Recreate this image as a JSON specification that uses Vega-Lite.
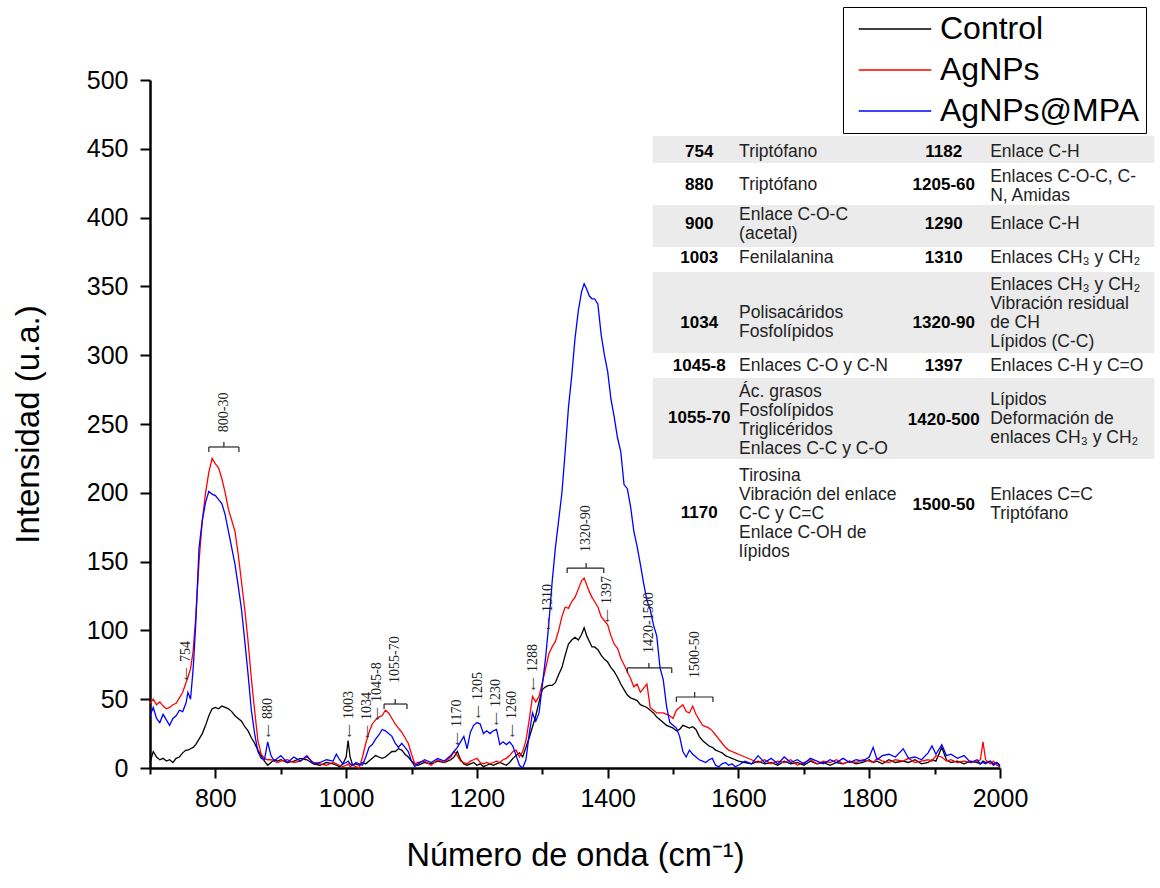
{
  "$schema": "https://vega.github.io/schema/vega-lite/v6.json",
  "width": 850,
  "height": 688,
  "autosize": {"type": "none"},
  "padding": {"left": 150, "top": 80, "right": 160, "bottom": 120},
  "background": "white",
  "config": {"view": {"stroke": null}},
  "datasets": {
    "spec": [
      {"x":700,"Control":4,"AgNPs":47,"AgNPs@MPA":38},
      {"x":705,"Control":12,"AgNPs":50,"AgNPs@MPA":44},
      {"x":710,"Control":8,"AgNPs":46,"AgNPs@MPA":36},
      {"x":715,"Control":6,"AgNPs":48,"AgNPs@MPA":33},
      {"x":720,"Control":7,"AgNPs":45,"AgNPs@MPA":39},
      {"x":725,"Control":5,"AgNPs":43,"AgNPs@MPA":35},
      {"x":730,"Control":6,"AgNPs":44,"AgNPs@MPA":31},
      {"x":735,"Control":4,"AgNPs":46,"AgNPs@MPA":36},
      {"x":740,"Control":7,"AgNPs":47,"AgNPs@MPA":38},
      {"x":745,"Control":8,"AgNPs":51,"AgNPs@MPA":42},
      {"x":750,"Control":11,"AgNPs":55,"AgNPs@MPA":41},
      {"x":755,"Control":13,"AgNPs":62,"AgNPs@MPA":47},
      {"x":758,"Control":13,"AgNPs":66,"AgNPs@MPA":55},
      {"x":762,"Control":14,"AgNPs":72,"AgNPs@MPA":50},
      {"x":766,"Control":15,"AgNPs":85,"AgNPs@MPA":72},
      {"x":770,"Control":17,"AgNPs":110,"AgNPs@MPA":105},
      {"x":775,"Control":21,"AgNPs":150,"AgNPs@MPA":160},
      {"x":780,"Control":25,"AgNPs":180,"AgNPs@MPA":180},
      {"x":785,"Control":31,"AgNPs":200,"AgNPs@MPA":193},
      {"x":790,"Control":38,"AgNPs":215,"AgNPs@MPA":201},
      {"x":795,"Control":43,"AgNPs":225,"AgNPs@MPA":199},
      {"x":800,"Control":44,"AgNPs":221,"AgNPs@MPA":198},
      {"x":805,"Control":43,"AgNPs":218,"AgNPs@MPA":195},
      {"x":810,"Control":45,"AgNPs":210,"AgNPs@MPA":192},
      {"x":815,"Control":44,"AgNPs":200,"AgNPs@MPA":184},
      {"x":820,"Control":43,"AgNPs":188,"AgNPs@MPA":172},
      {"x":825,"Control":41,"AgNPs":180,"AgNPs@MPA":160},
      {"x":830,"Control":38,"AgNPs":172,"AgNPs@MPA":148},
      {"x":835,"Control":36,"AgNPs":155,"AgNPs@MPA":132},
      {"x":840,"Control":34,"AgNPs":135,"AgNPs@MPA":115},
      {"x":845,"Control":30,"AgNPs":115,"AgNPs@MPA":92},
      {"x":850,"Control":27,"AgNPs":92,"AgNPs@MPA":68},
      {"x":855,"Control":22,"AgNPs":65,"AgNPs@MPA":42},
      {"x":860,"Control":18,"AgNPs":42,"AgNPs@MPA":25},
      {"x":865,"Control":13,"AgNPs":20,"AgNPs@MPA":12},
      {"x":870,"Control":9,"AgNPs":10,"AgNPs@MPA":7},
      {"x":875,"Control":5,"AgNPs":7,"AgNPs@MPA":6},
      {"x":880,"Control":2,"AgNPs":6,"AgNPs@MPA":19},
      {"x":885,"Control":4,"AgNPs":6,"AgNPs@MPA":9},
      {"x":890,"Control":6,"AgNPs":5,"AgNPs@MPA":5},
      {"x":895,"Control":5,"AgNPs":4,"AgNPs@MPA":7},
      {"x":900,"Control":6,"AgNPs":5,"AgNPs@MPA":9},
      {"x":910,"Control":4,"AgNPs":6,"AgNPs@MPA":4},
      {"x":920,"Control":5,"AgNPs":4,"AgNPs@MPA":8},
      {"x":930,"Control":7,"AgNPs":5,"AgNPs@MPA":5},
      {"x":940,"Control":6,"AgNPs":8,"AgNPs@MPA":9},
      {"x":950,"Control":3,"AgNPs":4,"AgNPs@MPA":3},
      {"x":960,"Control":2,"AgNPs":3,"AgNPs@MPA":4},
      {"x":970,"Control":4,"AgNPs":2,"AgNPs@MPA":6},
      {"x":980,"Control":3,"AgNPs":4,"AgNPs@MPA":5},
      {"x":985,"Control":2,"AgNPs":3,"AgNPs@MPA":10},
      {"x":990,"Control":1,"AgNPs":2,"AgNPs@MPA":6},
      {"x":995,"Control":3,"AgNPs":1,"AgNPs@MPA":3},
      {"x":1000,"Control":8,"AgNPs":2,"AgNPs@MPA":4},
      {"x":1003,"Control":20,"AgNPs":3,"AgNPs@MPA":5},
      {"x":1006,"Control":8,"AgNPs":1,"AgNPs@MPA":3},
      {"x":1010,"Control":2,"AgNPs":2,"AgNPs@MPA":2},
      {"x":1015,"Control":3,"AgNPs":1,"AgNPs@MPA":4},
      {"x":1020,"Control":2,"AgNPs":0,"AgNPs@MPA":3},
      {"x":1025,"Control":4,"AgNPs":8,"AgNPs@MPA":2},
      {"x":1030,"Control":3,"AgNPs":18,"AgNPs@MPA":8},
      {"x":1035,"Control":5,"AgNPs":26,"AgNPs@MPA":15},
      {"x":1040,"Control":7,"AgNPs":32,"AgNPs@MPA":17},
      {"x":1045,"Control":9,"AgNPs":35,"AgNPs@MPA":21},
      {"x":1050,"Control":8,"AgNPs":37,"AgNPs@MPA":24},
      {"x":1055,"Control":7,"AgNPs":38,"AgNPs@MPA":28},
      {"x":1060,"Control":8,"AgNPs":42,"AgNPs@MPA":27},
      {"x":1065,"Control":10,"AgNPs":40,"AgNPs@MPA":25},
      {"x":1070,"Control":12,"AgNPs":36,"AgNPs@MPA":23},
      {"x":1075,"Control":12,"AgNPs":32,"AgNPs@MPA":18},
      {"x":1080,"Control":14,"AgNPs":29,"AgNPs@MPA":15},
      {"x":1085,"Control":13,"AgNPs":26,"AgNPs@MPA":18},
      {"x":1090,"Control":10,"AgNPs":22,"AgNPs@MPA":15},
      {"x":1095,"Control":8,"AgNPs":18,"AgNPs@MPA":12},
      {"x":1100,"Control":5,"AgNPs":10,"AgNPs@MPA":5},
      {"x":1105,"Control":3,"AgNPs":3,"AgNPs@MPA":1},
      {"x":1110,"Control":2,"AgNPs":4,"AgNPs@MPA":3},
      {"x":1120,"Control":4,"AgNPs":5,"AgNPs@MPA":6},
      {"x":1130,"Control":3,"AgNPs":2,"AgNPs@MPA":4},
      {"x":1140,"Control":5,"AgNPs":6,"AgNPs@MPA":7},
      {"x":1150,"Control":4,"AgNPs":4,"AgNPs@MPA":5},
      {"x":1160,"Control":6,"AgNPs":8,"AgNPs@MPA":9},
      {"x":1165,"Control":8,"AgNPs":12,"AgNPs@MPA":12},
      {"x":1170,"Control":12,"AgNPs":9,"AgNPs@MPA":15},
      {"x":1175,"Control":6,"AgNPs":5,"AgNPs@MPA":19},
      {"x":1180,"Control":3,"AgNPs":4,"AgNPs@MPA":23},
      {"x":1185,"Control":2,"AgNPs":3,"AgNPs@MPA":14},
      {"x":1190,"Control":3,"AgNPs":5,"AgNPs@MPA":26},
      {"x":1195,"Control":4,"AgNPs":6,"AgNPs@MPA":31},
      {"x":1200,"Control":2,"AgNPs":7,"AgNPs@MPA":33},
      {"x":1205,"Control":3,"AgNPs":4,"AgNPs@MPA":32},
      {"x":1210,"Control":1,"AgNPs":3,"AgNPs@MPA":25},
      {"x":1215,"Control":2,"AgNPs":4,"AgNPs@MPA":27},
      {"x":1220,"Control":3,"AgNPs":3,"AgNPs@MPA":25},
      {"x":1225,"Control":2,"AgNPs":4,"AgNPs@MPA":27},
      {"x":1230,"Control":3,"AgNPs":5,"AgNPs@MPA":28},
      {"x":1235,"Control":4,"AgNPs":4,"AgNPs@MPA":17},
      {"x":1240,"Control":3,"AgNPs":6,"AgNPs@MPA":19},
      {"x":1245,"Control":2,"AgNPs":7,"AgNPs@MPA":17},
      {"x":1250,"Control":4,"AgNPs":9,"AgNPs@MPA":19},
      {"x":1255,"Control":7,"AgNPs":12,"AgNPs@MPA":16},
      {"x":1260,"Control":9,"AgNPs":13,"AgNPs@MPA":9},
      {"x":1265,"Control":11,"AgNPs":8,"AgNPs@MPA":2},
      {"x":1270,"Control":8,"AgNPs":12,"AgNPs@MPA":0},
      {"x":1275,"Control":15,"AgNPs":20,"AgNPs@MPA":6},
      {"x":1280,"Control":22,"AgNPs":35,"AgNPs@MPA":25},
      {"x":1285,"Control":30,"AgNPs":52,"AgNPs@MPA":40},
      {"x":1290,"Control":38,"AgNPs":48,"AgNPs@MPA":34},
      {"x":1295,"Control":48,"AgNPs":52,"AgNPs@MPA":40},
      {"x":1300,"Control":57,"AgNPs":62,"AgNPs@MPA":60},
      {"x":1305,"Control":59,"AgNPs":72,"AgNPs@MPA":80},
      {"x":1310,"Control":60,"AgNPs":83,"AgNPs@MPA":105},
      {"x":1315,"Control":60,"AgNPs":88,"AgNPs@MPA":135},
      {"x":1320,"Control":62,"AgNPs":92,"AgNPs@MPA":160},
      {"x":1325,"Control":68,"AgNPs":100,"AgNPs@MPA":180},
      {"x":1330,"Control":73,"AgNPs":110,"AgNPs@MPA":200},
      {"x":1335,"Control":82,"AgNPs":117,"AgNPs@MPA":230},
      {"x":1340,"Control":90,"AgNPs":116,"AgNPs@MPA":262},
      {"x":1345,"Control":93,"AgNPs":121,"AgNPs@MPA":285},
      {"x":1350,"Control":95,"AgNPs":124,"AgNPs@MPA":312},
      {"x":1355,"Control":93,"AgNPs":130,"AgNPs@MPA":332},
      {"x":1360,"Control":97,"AgNPs":136,"AgNPs@MPA":346},
      {"x":1364,"Control":102,"AgNPs":138,"AgNPs@MPA":352},
      {"x":1368,"Control":96,"AgNPs":133,"AgNPs@MPA":348},
      {"x":1372,"Control":92,"AgNPs":128,"AgNPs@MPA":343},
      {"x":1376,"Control":88,"AgNPs":124,"AgNPs@MPA":341},
      {"x":1380,"Control":88,"AgNPs":121,"AgNPs@MPA":341},
      {"x":1385,"Control":86,"AgNPs":117,"AgNPs@MPA":337},
      {"x":1390,"Control":82,"AgNPs":110,"AgNPs@MPA":315},
      {"x":1395,"Control":79,"AgNPs":107,"AgNPs@MPA":300},
      {"x":1400,"Control":77,"AgNPs":104,"AgNPs@MPA":288},
      {"x":1405,"Control":73,"AgNPs":96,"AgNPs@MPA":268},
      {"x":1410,"Control":70,"AgNPs":90,"AgNPs@MPA":255},
      {"x":1415,"Control":66,"AgNPs":87,"AgNPs@MPA":240},
      {"x":1420,"Control":61,"AgNPs":80,"AgNPs@MPA":230},
      {"x":1425,"Control":57,"AgNPs":75,"AgNPs@MPA":206},
      {"x":1430,"Control":53,"AgNPs":70,"AgNPs@MPA":203},
      {"x":1435,"Control":51,"AgNPs":65,"AgNPs@MPA":190},
      {"x":1440,"Control":50,"AgNPs":59,"AgNPs@MPA":172},
      {"x":1445,"Control":49,"AgNPs":61,"AgNPs@MPA":161},
      {"x":1450,"Control":46,"AgNPs":55,"AgNPs@MPA":148},
      {"x":1455,"Control":45,"AgNPs":58,"AgNPs@MPA":134},
      {"x":1460,"Control":44,"AgNPs":61,"AgNPs@MPA":122},
      {"x":1465,"Control":42,"AgNPs":44,"AgNPs@MPA":115},
      {"x":1470,"Control":40,"AgNPs":42,"AgNPs@MPA":104},
      {"x":1475,"Control":37,"AgNPs":40,"AgNPs@MPA":96},
      {"x":1480,"Control":35,"AgNPs":40,"AgNPs@MPA":73},
      {"x":1485,"Control":33,"AgNPs":40,"AgNPs@MPA":64},
      {"x":1490,"Control":31,"AgNPs":39,"AgNPs@MPA":45},
      {"x":1495,"Control":30,"AgNPs":38,"AgNPs@MPA":33},
      {"x":1500,"Control":29,"AgNPs":36,"AgNPs@MPA":31},
      {"x":1505,"Control":27,"AgNPs":42,"AgNPs@MPA":29},
      {"x":1510,"Control":28,"AgNPs":44,"AgNPs@MPA":23},
      {"x":1515,"Control":31,"AgNPs":46,"AgNPs@MPA":12},
      {"x":1520,"Control":30,"AgNPs":41,"AgNPs@MPA":8},
      {"x":1525,"Control":29,"AgNPs":40,"AgNPs@MPA":13},
      {"x":1530,"Control":30,"AgNPs":45,"AgNPs@MPA":10},
      {"x":1535,"Control":28,"AgNPs":39,"AgNPs@MPA":8},
      {"x":1540,"Control":23,"AgNPs":35,"AgNPs@MPA":6},
      {"x":1545,"Control":20,"AgNPs":31,"AgNPs@MPA":5},
      {"x":1550,"Control":18,"AgNPs":30,"AgNPs@MPA":4},
      {"x":1555,"Control":16,"AgNPs":29,"AgNPs@MPA":6},
      {"x":1560,"Control":15,"AgNPs":27,"AgNPs@MPA":7},
      {"x":1565,"Control":13,"AgNPs":24,"AgNPs@MPA":2},
      {"x":1570,"Control":12,"AgNPs":21,"AgNPs@MPA":1},
      {"x":1575,"Control":11,"AgNPs":18,"AgNPs@MPA":3},
      {"x":1580,"Control":9,"AgNPs":15,"AgNPs@MPA":4},
      {"x":1585,"Control":8,"AgNPs":13,"AgNPs@MPA":2},
      {"x":1590,"Control":7,"AgNPs":12,"AgNPs@MPA":3},
      {"x":1595,"Control":6,"AgNPs":11,"AgNPs@MPA":1},
      {"x":1600,"Control":5,"AgNPs":10,"AgNPs@MPA":2},
      {"x":1610,"Control":4,"AgNPs":8,"AgNPs@MPA":5},
      {"x":1620,"Control":3,"AgNPs":6,"AgNPs@MPA":3},
      {"x":1630,"Control":5,"AgNPs":4,"AgNPs@MPA":9},
      {"x":1640,"Control":3,"AgNPs":6,"AgNPs@MPA":4},
      {"x":1650,"Control":4,"AgNPs":3,"AgNPs@MPA":7},
      {"x":1660,"Control":2,"AgNPs":5,"AgNPs@MPA":3},
      {"x":1670,"Control":5,"AgNPs":4,"AgNPs@MPA":8},
      {"x":1680,"Control":3,"AgNPs":6,"AgNPs@MPA":4},
      {"x":1690,"Control":4,"AgNPs":2,"AgNPs@MPA":6},
      {"x":1700,"Control":2,"AgNPs":4,"AgNPs@MPA":3},
      {"x":1710,"Control":5,"AgNPs":6,"AgNPs@MPA":7},
      {"x":1720,"Control":3,"AgNPs":3,"AgNPs@MPA":5},
      {"x":1730,"Control":4,"AgNPs":5,"AgNPs@MPA":3},
      {"x":1740,"Control":2,"AgNPs":4,"AgNPs@MPA":6},
      {"x":1750,"Control":4,"AgNPs":6,"AgNPs@MPA":4},
      {"x":1760,"Control":3,"AgNPs":3,"AgNPs@MPA":7},
      {"x":1770,"Control":5,"AgNPs":5,"AgNPs@MPA":4},
      {"x":1780,"Control":3,"AgNPs":4,"AgNPs@MPA":6},
      {"x":1790,"Control":4,"AgNPs":6,"AgNPs@MPA":5},
      {"x":1800,"Control":6,"AgNPs":5,"AgNPs@MPA":8},
      {"x":1806,"Control":4,"AgNPs":4,"AgNPs@MPA":15},
      {"x":1812,"Control":5,"AgNPs":7,"AgNPs@MPA":6},
      {"x":1820,"Control":3,"AgNPs":5,"AgNPs@MPA":9},
      {"x":1830,"Control":6,"AgNPs":4,"AgNPs@MPA":10},
      {"x":1840,"Control":4,"AgNPs":6,"AgNPs@MPA":8},
      {"x":1852,"Control":5,"AgNPs":5,"AgNPs@MPA":14},
      {"x":1860,"Control":4,"AgNPs":7,"AgNPs@MPA":7},
      {"x":1870,"Control":6,"AgNPs":4,"AgNPs@MPA":8},
      {"x":1880,"Control":3,"AgNPs":5,"AgNPs@MPA":6},
      {"x":1890,"Control":4,"AgNPs":6,"AgNPs@MPA":11},
      {"x":1896,"Control":6,"AgNPs":5,"AgNPs@MPA":16},
      {"x":1902,"Control":5,"AgNPs":9,"AgNPs@MPA":10},
      {"x":1911,"Control":15,"AgNPs":8,"AgNPs@MPA":17},
      {"x":1918,"Control":6,"AgNPs":5,"AgNPs@MPA":9},
      {"x":1925,"Control":4,"AgNPs":6,"AgNPs@MPA":10},
      {"x":1935,"Control":5,"AgNPs":4,"AgNPs@MPA":7},
      {"x":1945,"Control":3,"AgNPs":5,"AgNPs@MPA":9},
      {"x":1955,"Control":5,"AgNPs":4,"AgNPs@MPA":4},
      {"x":1965,"Control":4,"AgNPs":5,"AgNPs@MPA":6},
      {"x":1970,"Control":3,"AgNPs":6,"AgNPs@MPA":3},
      {"x":1974,"Control":5,"AgNPs":19,"AgNPs@MPA":4},
      {"x":1978,"Control":4,"AgNPs":6,"AgNPs@MPA":3},
      {"x":1985,"Control":5,"AgNPs":3,"AgNPs@MPA":5},
      {"x":1990,"Control":3,"AgNPs":5,"AgNPs@MPA":2},
      {"x":1995,"Control":4,"AgNPs":2,"AgNPs@MPA":4},
      {"x":2000,"Control":2,"AgNPs":1,"AgNPs@MPA":1}
    ],
    "arr": [
      {"x":755,"y":64,"t":"754"},
      {"x":880,"y":22.5,"t":"880"},
      {"x":1004,"y":22.5,"t":"1003"},
      {"x":1032,"y":21.8,"t":"1034"},
      {"x":1047,"y":34.9,"t":"1045-8"},
      {"x":1170,"y":16.7,"t":"1170"},
      {"x":1202,"y":36.3,"t":"1205"},
      {"x":1229,"y":31.2,"t":"1230"},
      {"x":1254,"y":22.5,"t":"1260"},
      {"x":1286,"y":56.7,"t":"1288"},
      {"x":1309,"y":100.3,"t":"1310"},
      {"x":1399,"y":106.1,"t":"1397"}
    ],
    "blab": [
      {"x":813,"y":244,"t":"800-30"},
      {"x":1075,"y":61.8,"t":"1055-70"},
      {"x":1367,"y":157,"t":"1320-90"},
      {"x":1463,"y":83.6,"t":"1420-1500"},
      {"x":1533,"y":65.4,"t":"1500-50"}
    ],
    "brk": [
      {"x":790,"x2":836,"y":233.3,"y2":233.3},
      {"x":790,"x2":790,"y":233.3,"y2":229.7},
      {"x":836,"x2":836,"y":233.3,"y2":229.7},
      {"x":813,"x2":813,"y":233.3,"y2":236.9},
      {"x":1058,"x2":1093,"y":46.5,"y2":46.5},
      {"x":1058,"x2":1058,"y":46.5,"y2":42.9},
      {"x":1093,"x2":1093,"y":46.5,"y2":42.9},
      {"x":1075,"x2":1075,"y":46.5,"y2":50.1},
      {"x":1338,"x2":1394,"y":145.3,"y2":145.3},
      {"x":1338,"x2":1338,"y":145.3,"y2":141.7},
      {"x":1394,"x2":1394,"y":145.3,"y2":141.7},
      {"x":1367,"x2":1367,"y":145.3,"y2":148.9},
      {"x":1430,"x2":1498,"y":72.7,"y2":72.7},
      {"x":1430,"x2":1430,"y":72.7,"y2":69.1},
      {"x":1498,"x2":1498,"y":72.7,"y2":69.1},
      {"x":1463,"x2":1463,"y":72.7,"y2":76.3},
      {"x":1505,"x2":1561,"y":51.6,"y2":51.6},
      {"x":1505,"x2":1505,"y":51.6,"y2":48},
      {"x":1561,"x2":1561,"y":51.6,"y2":48},
      {"x":1533,"x2":1533,"y":51.6,"y2":55.2}
    ],
    "tbl": [
      {"x":1469,"x2":2236,"y":459.3,"y2":439.7},
      {"x":1469,"x2":2236,"y":409.2,"y2":378.6},
      {"x":1469,"x2":2236,"y":360.5,"y2":301.6},
      {"x":1469,"x2":2236,"y":283.4,"y2":224.6}
    ],
    "tnum": [
      {"x":1540,"y":447.7,"t":"754"},
      {"x":1540,"y":423.7,"t":"880"},
      {"x":1540,"y":395.3,"t":"900"},
      {"x":1540,"y":370.6,"t":"1003"},
      {"x":1540,"y":323.4,"t":"1034"},
      {"x":1540,"y":292.2,"t":"1045-8"},
      {"x":1540,"y":254.4,"t":"1055-70"},
      {"x":1540,"y":185.3,"t":"1170"},
      {"x":1914,"y":447.7,"t":"1182"},
      {"x":1914,"y":423.7,"t":"1205-60"},
      {"x":1914,"y":395.3,"t":"1290"},
      {"x":1914,"y":370.6,"t":"1310"},
      {"x":1914,"y":323.4,"t":"1320-90"},
      {"x":1914,"y":292.2,"t":"1397"},
      {"x":1914,"y":252.9,"t":"1420-500"},
      {"x":1914,"y":191.1,"t":"1500-50"}
    ],
    "tdesc": [
      {"x":1601,"y":447.7,"t":"Triptófano"},
      {"x":1601,"y":423.7,"t":"Triptófano"},
      {"x":1601,"y":401.9,"t":"Enlace C-O-C\n(acetal)"},
      {"x":1601,"y":370.6,"t":"Fenilalanina"},
      {"x":1601,"y":330.7,"t":"Polisacáridos\nFosfolípidos"},
      {"x":1601,"y":292.2,"t":"Enlaces C-O y C-N"},
      {"x":1601,"y":273.3,"t":"Ác. grasos\nFosfolípidos\nTriglicéridos\nEnlaces C-C y C-O"},
      {"x":1601,"y":212.2,"t":"Tirosina\nVibración del enlace\nC-C y C=C\nEnlace C-OH de\nlípidos"},
      {"x":1985,"y":447.7,"t":"Enlace C-H"},
      {"x":1985,"y":429.5,"t":"Enlaces C-O-C, C-\nN, Amidas"},
      {"x":1985,"y":395.3,"t":"Enlace C-H"},
      {"x":1985,"y":370.6,"t":"Enlaces CH₃ y CH₂"},
      {"x":1985,"y":351.0,"t":"Enlaces CH₃ y CH₂\nVibración residual\nde CH\nLípidos (C-C)"},
      {"x":1985,"y":292.2,"t":"Enlaces C-H y C=O"},
      {"x":1985,"y":267.4,"t":"Lípidos\nDeformación de\nenlaces CH₃ y CH₂"},
      {"x":1985,"y":198.4,"t":"Enlaces C=C\nTriptófano"}
    ]
  },
  "layer": [
    {
      "data": {"name": "spec"},
      "transform": [{"fold": ["Control", "AgNPs", "AgNPs@MPA"], "as": ["s", "I"]}],
      "mark": {"type": "line", "strokeWidth": 1.3, "interpolate": "linear"},
      "encoding": {
        "x": {
          "field": "x", "type": "quantitative",
          "scale": {"domain": [700, 2000], "nice": false, "zero": false},
          "axis": {
            "title": "Número de onda (cm⁻¹)",
            "values": [700, 800, 900, 1000, 1100, 1200, 1300, 1400, 1500, 1600, 1700, 1800, 1900, 2000],
            "format": "d",
            "labelExpr": "datum.value % 200 === 0 ? datum.label : ''",
            "tickSize": {"condition": {"test": "datum.value % 200 === 0", "value": 10}, "value": 6},
            "tickWidth": 2, "tickColor": "black",
            "domainWidth": 2.5, "domainColor": "black",
            "grid": false,
            "labelFont": "Liberation Sans",
            "labelFontSize": 25, "labelColor": "black", "labelPadding": 8,
            "labelFlush": false, "labelOverlap": false,
            "titleFont": "Liberation Sans",
            "titleFontSize": 32.5, "titleFontWeight": "normal", "titleColor": "black", "titlePadding": 28
          }
        },
        "y": {
          "field": "I", "type": "quantitative",
          "scale": {"domain": [0, 500], "nice": false},
          "axis": {
            "title": "Intensidad (u.a.)",
            "values": [0, 25, 50, 75, 100, 125, 150, 175, 200, 225, 250, 275, 300, 325, 350, 375, 400, 425, 450, 475, 500],
            "labelExpr": "datum.value % 50 === 0 ? datum.label : ''",
            "tickSize": {"condition": {"test": "datum.value % 50 === 0", "value": 10}, "value": 5},
            "tickWidth": 2, "tickColor": "black",
            "domainWidth": 2.5, "domainColor": "black",
            "grid": false,
            "labelFont": "Liberation Sans", "labelFontSize": 25, "labelColor": "black", "labelPadding": 12,
            "labelOverlap": false, "labelFlush": false,
            "titleFont": "Liberation Sans",
            "titleFontSize": 33, "titleFontWeight": "normal", "titleColor": "black", "titlePadding": 41
          }
        },
        "color": {
          "field": "s", "type": "nominal",
          "scale": {"domain": ["Control", "AgNPs", "AgNPs@MPA"], "range": ["#000000", "#ff0000", "#0000ff"]},
          "legend": {
            "title": null, "orient": "none", "legendX": 693, "legendY": -73,
            "direction": "vertical",
            "symbolType": "M-2.5,0H2.5", "symbolSize": 841, "symbolStrokeWidth": 1.5,
            "symbolOffset": 30, "labelOffset": 29,
            "labelFont": "Liberation Sans", "labelFontSize": 32, "labelColor": "black", "labelLimit": 400,
            "padding": 6, "rowPadding": 9,
            "strokeColor": "black", "fillColor": "white"
          }
        }
      }
    },
    {
      "data": {"name": "tbl"},
      "mark": {"type": "rect", "fill": "#ebebeb"},
      "encoding": {
        "x": {"field": "x", "type": "quantitative", "scale": {"domain": [700, 2000], "nice": false, "zero": false}},
        "x2": {"field": "x2"},
        "y": {"field": "y", "type": "quantitative", "scale": {"domain": [0, 500], "nice": false}},
        "y2": {"field": "y2"}
      }
    },
    {
      "data": {"name": "brk"},
      "mark": {"type": "rule", "color": "#222", "strokeWidth": 1.2},
      "encoding": {
        "x": {"field": "x", "type": "quantitative", "scale": {"domain": [700, 2000], "nice": false, "zero": false}},
        "x2": {"field": "x2"},
        "y": {"field": "y", "type": "quantitative", "scale": {"domain": [0, 500], "nice": false}},
        "y2": {"field": "y2"}
      }
    },
    {
      "data": {"name": "arr"},
      "mark": {"type": "text", "text": "⟵", "angle": 270, "align": "left", "baseline": "middle", "font": "DejaVu Sans", "fontSize": 9, "color": "#333"},
      "encoding": {
        "x": {"field": "x", "type": "quantitative", "scale": {"domain": [700, 2000], "nice": false, "zero": false}},
        "y": {"field": "y", "type": "quantitative", "scale": {"domain": [0, 500], "nice": false}}
      }
    },
    {
      "data": {"name": "arr"},
      "mark": {"type": "text", "angle": 270, "align": "left", "baseline": "middle", "dx": 18, "font": "Liberation Serif", "fontSize": 14, "color": "#222"},
      "encoding": {
        "x": {"field": "x", "type": "quantitative", "scale": {"domain": [700, 2000], "nice": false, "zero": false}},
        "y": {"field": "y", "type": "quantitative", "scale": {"domain": [0, 500], "nice": false}},
        "text": {"field": "t"}
      }
    },
    {
      "data": {"name": "blab"},
      "mark": {"type": "text", "angle": 270, "align": "left", "baseline": "middle", "font": "Liberation Serif", "fontSize": 14, "color": "#222"},
      "encoding": {
        "x": {"field": "x", "type": "quantitative", "scale": {"domain": [700, 2000], "nice": false, "zero": false}},
        "y": {"field": "y", "type": "quantitative", "scale": {"domain": [0, 500], "nice": false}},
        "text": {"field": "t"}
      }
    },
    {
      "data": {"name": "tnum"},
      "mark": {"type": "text", "align": "center", "baseline": "middle", "font": "Liberation Sans", "fontSize": 17, "fontWeight": "bold", "color": "#000"},
      "encoding": {
        "x": {"field": "x", "type": "quantitative", "scale": {"domain": [700, 2000], "nice": false, "zero": false}},
        "y": {"field": "y", "type": "quantitative", "scale": {"domain": [0, 500], "nice": false}},
        "text": {"field": "t"}
      }
    },
    {
      "data": {"name": "tdesc"},
      "mark": {"type": "text", "align": "left", "baseline": "middle", "font": "Liberation Sans", "fontSize": 17.5, "lineBreak": "\n", "lineHeight": 19, "color": "#222"},
      "encoding": {
        "x": {"field": "x", "type": "quantitative", "scale": {"domain": [700, 2000], "nice": false, "zero": false}},
        "y": {"field": "y", "type": "quantitative", "scale": {"domain": [0, 500], "nice": false}},
        "text": {"field": "t"}
      }
    }
  ]
}
